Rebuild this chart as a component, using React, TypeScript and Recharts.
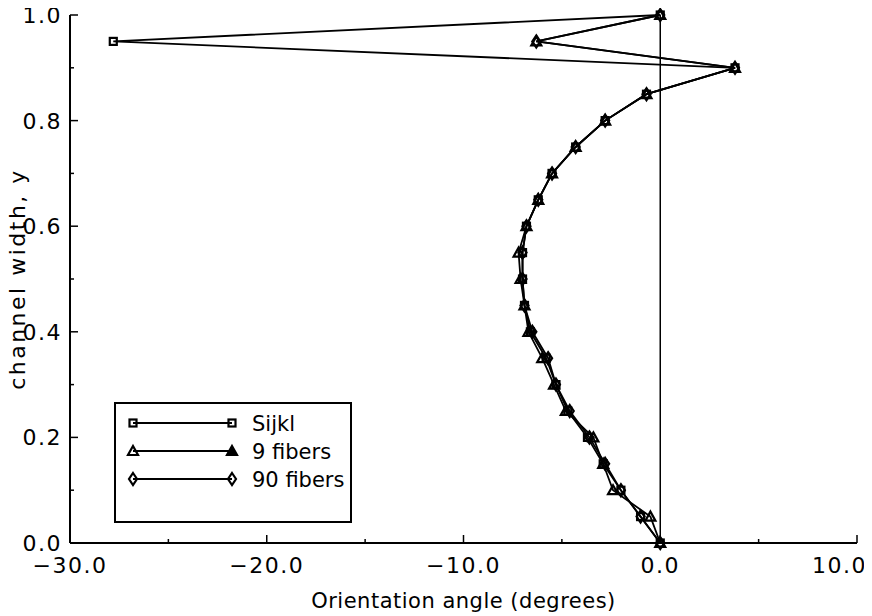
import { ScatterChart, Scatter, XAxis, YAxis, ReferenceLine, Legend } from "recharts";

// channel positions (bottom wall to top wall)
const widths = [0, 0.05, 0.1, 0.15, 0.2, 0.25, 0.3, 0.35, 0.4, 0.45, 0.5, 0.55, 0.6, 0.65, 0.7, 0.75, 0.8, 0.85, 0.9, 0.95, 1.0];

// orientation angle in degrees at each position
const sijkl = [0, -1.0, -2.0, -2.9, -3.7, -4.7, -5.3, -5.8, -6.6, -6.9, -7.0, -7.0, -6.8, -6.2, -5.5, -4.3, -2.8, -0.7, 3.8, -27.8, 0];
const nineFibers = [0, -0.5, -2.4, -2.9, -3.4, -4.8, -5.4, -6.0, -6.7, -6.9, -7.1, -7.2, -6.8, -6.2, -5.5, -4.3, -2.8, -0.7, 3.8, -6.3, 0];
const ninetyFibers = [0, -1.0, -2.0, -2.8, -3.6, -4.6, -5.3, -5.7, -6.5, -6.9, -7.0, -7.0, -6.8, -6.2, -5.5, -4.3, -2.8, -0.7, 3.8, -6.3, 0];

const xTicks = [-30, -25, -20, -15, -10, -5, 0, 5, 10];
const yTicks = [0, 0.1, 0.2, 0.3, 0.4, 0.5, 0.6, 0.7, 0.8, 0.9, 1.0];
const seriesNames = ["Sijkl", "9 fibers", "90 fibers"];

const FONT = "'DejaVu Sans', sans-serif";
const INK = "#000";

const toPoints = (angles: number[]) => widths.map((y, i) => ({ x: angles[i], y }));

const fmtX = (v: number) => (v < 0 ? "\u2212" : "") + Math.abs(v).toFixed(1);

// marker shapes, drawn as outlines so stacked points merge into a dark blob
function Square({ cx, cy }: { cx: number; cy: number }) {
  return <rect x={cx - 3.5} y={cy - 3.5} width={7} height={7} fill="none" stroke={INK} strokeWidth={2.2} />;
}
function Triangle({ cx, cy, filled }: { cx: number; cy: number; filled?: boolean }) {
  return (
    <polygon
      points={`${cx},${cy - 5} ${cx + 5},${cy + 4} ${cx - 5},${cy + 4}`}
      fill={filled ? INK : "none"}
      stroke={INK}
      strokeWidth={2.2}
    />
  );
}
function Diamond({ cx, cy }: { cx: number; cy: number }) {
  return (
    <polygon
      points={`${cx},${cy - 6} ${cx + 4},${cy} ${cx},${cy + 6} ${cx - 4},${cy}`}
      fill="none"
      stroke={INK}
      strokeWidth={2.2}
    />
  );
}

// ticks point into the plot; only every other tick gets a label
function BottomTick(props: any) {
  const { x, y, payload } = props;
  const v = payload.value;
  const major = v % 10 === 0;
  // last label is pulled in so it stays on the canvas
  const last = v === xTicks[xTicks.length - 1];
  return (
    <g>
      <line x1={x} y1={y} x2={x} y2={y - (major ? 8 : 4)} stroke={INK} strokeWidth={1.5} />
      {major && (
        <text
          x={last ? x + 10 : x}
          y={y + 30}
          textAnchor={last ? "end" : "middle"}
          fontFamily={FONT}
          fontSize={22}
          letterSpacing={1.5}
          fill={INK}
        >
          {fmtX(v)}
        </text>
      )}
    </g>
  );
}
function TopTick(props: any) {
  const { x, y, payload } = props;
  const major = payload.value % 10 === 0;
  return <line x1={x} y1={y} x2={x} y2={y + (major ? 8 : 4)} stroke={INK} strokeWidth={1.5} />;
}
function LeftTick(props: any) {
  const { x, y, payload } = props;
  const major = Math.round(payload.value * 10) % 2 === 0;
  return (
    <g>
      <line x1={x} y1={y} x2={x + (major ? 8 : 4)} y2={y} stroke={INK} strokeWidth={1.5} />
      {major && (
        <text x={x - 8} y={y + 8} textAnchor="end" fontFamily={FONT} fontSize={22} letterSpacing={1.5} fill={INK}>
          {payload.value.toFixed(1)}
        </text>
      )}
    </g>
  );
}
function RightTick(props: any) {
  const { x, y, payload } = props;
  const major = Math.round(payload.value * 10) % 2 === 0;
  return <line x1={x} y1={y} x2={x - (major ? 8 : 4)} y2={y} stroke={INK} strokeWidth={1.5} />;
}

function KeyBox() {
  const rows = [19, 47, 75];
  return (
    <div style={{ width: 238, height: 121, border: "2px solid #000", boxSizing: "border-box", background: "#fff" }}>
      <svg width={234} height={117} style={{ display: "block" }}>
        {seriesNames.map((name, i) => {
          const cy = rows[i];
          return (
            <g key={name}>
              <line x1={17} y1={cy} x2={116} y2={cy} stroke={INK} strokeWidth={2} />
              {i === 0 && (
                <>
                  <Square cx={17} cy={cy} />
                  <Square cx={116} cy={cy} />
                </>
              )}
              {i === 1 && (
                <>
                  <Triangle cx={17} cy={cy} />
                  <Triangle cx={116} cy={cy} filled />
                </>
              )}
              {i === 2 && (
                <>
                  <Diamond cx={17} cy={cy} />
                  <Diamond cx={116} cy={cy} />
                </>
              )}
              <text x={136} y={cy + 8} fontFamily={FONT} fontSize={21} fill={INK}>
                {name}
              </text>
            </g>
          );
        })}
      </svg>
    </div>
  );
}

export default function App() {
  return (
    // pull the chart into the page corner past the default body margin
    <div style={{ margin: "-8px 0 0 -8px" }}>
      <ScatterChart width={872} height={616} margin={{ top: 15, right: 15, bottom: 0, left: 0 }}>
        <XAxis
          type="number"
          dataKey="x"
          domain={[-30, 10]}
          ticks={xTicks}
          interval={0}
          tickSize={0}
          tickMargin={0}
          height={73}
          tick={<BottomTick />}
          axisLine={{ stroke: INK, strokeWidth: 2 }}
          tickLine={false}
          label={{
            value: "Orientation angle (degrees)",
            position: "insideBottom",
            offset: 8,
            style: { fontFamily: FONT, fontSize: 21, letterSpacing: 0.5, fill: INK },
          }}
        />
        <XAxis
          xAxisId="top"
          orientation="top"
          type="number"
          domain={[-30, 10]}
          ticks={xTicks}
          interval={0}
          tickSize={0}
          tickMargin={0}
          height={0}
          tick={<TopTick />}
          axisLine={{ stroke: INK, strokeWidth: 2 }}
          tickLine={false}
        />
        <YAxis
          type="number"
          dataKey="y"
          domain={[0, 1]}
          ticks={yTicks}
          interval={0}
          tickSize={0}
          tickMargin={0}
          width={70}
          tick={<LeftTick />}
          axisLine={{ stroke: INK, strokeWidth: 2 }}
          tickLine={false}
          label={{
            value: "channel width, y",
            angle: -90,
            position: "insideLeft",
            offset: 17,
            style: { textAnchor: "middle", fontFamily: FONT, fontSize: 22, letterSpacing: 2.5, fill: INK },
          }}
        />
        <YAxis
          yAxisId="right"
          orientation="right"
          type="number"
          domain={[0, 1]}
          ticks={yTicks}
          interval={0}
          tickSize={0}
          tickMargin={0}
          width={0}
          tick={<RightTick />}
          axisLine={{ stroke: INK, strokeWidth: 2 }}
          tickLine={false}
        />
        <ReferenceLine x={0} stroke={INK} strokeWidth={1.5} />
        <Scatter
          name="Sijkl"
          data={toPoints(sijkl)}
          line={{ stroke: INK, strokeWidth: 1.8 }}
          shape={(p: any) => <Square cx={p.cx} cy={p.cy} />}
          isAnimationActive={false}
        />
        <Scatter
          name="9 fibers"
          data={toPoints(nineFibers)}
          line={{ stroke: INK, strokeWidth: 1.8 }}
          shape={(p: any) => <Triangle cx={p.cx} cy={p.cy} />}
          isAnimationActive={false}
        />
        <Scatter
          name="90 fibers"
          data={toPoints(ninetyFibers)}
          line={{ stroke: INK, strokeWidth: 1.8 }}
          shape={(p: any) => <Diamond cx={p.cx} cy={p.cy} />}
          isAnimationActive={false}
        />
        <Legend
          layout="horizontal"
          verticalAlign="middle"
          align="center"
          content={() => <KeyBox />}
          wrapperStyle={{ left: 114, top: 402, width: 238, height: 121 }}
        />
      </ScatterChart>
    </div>
  );
}
